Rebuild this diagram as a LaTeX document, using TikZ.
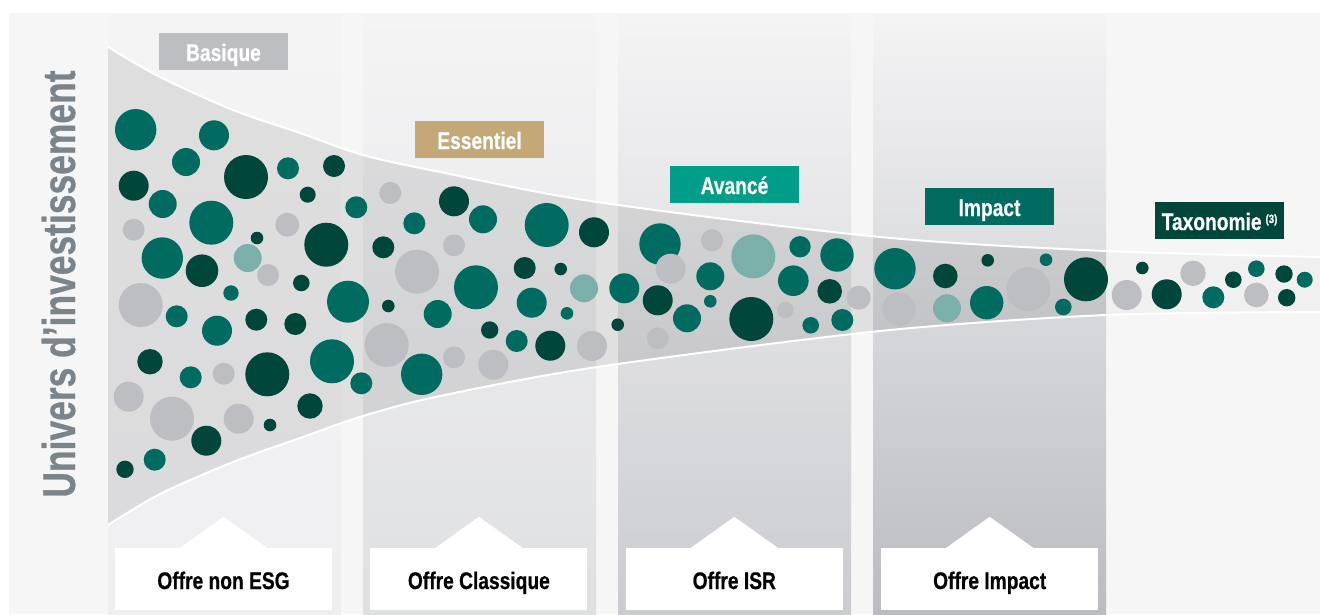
\documentclass[tikz,border=0pt]{standalone}
\usepackage{fontspec}
\newfontfamily\condfont[FakeStretch=0.8, FakeBold=0.6]{Liberation Sans}
\newfontfamily\axisfont[FakeStretch=0.77, FakeBold=0.6]{Liberation Sans}
\usetikzlibrary{positioning}

\definecolor{esgteal}{HTML}{006B61}
\definecolor{esgdark}{HTML}{00463B}
\definecolor{esggray}{HTML}{BCBEC2}
\definecolor{esglight}{HTML}{7AAFAA}
\definecolor{esgtan}{HTML}{C4A878}
\definecolor{esgmint}{HTML}{009E88}
\definecolor{panelbg}{HTML}{F6F6F6}
\definecolor{lanetop}{HTML}{F4F4F5}
\definecolor{laneA}{HTML}{EFEFF1}
\definecolor{laneB}{HTML}{DFE0E2}
\definecolor{laneC}{HTML}{CBCCD0}
\definecolor{laneD}{HTML}{BABCC1}
\definecolor{axistext}{HTML}{7B848B}

\begin{document}
\begin{tikzpicture}[
  x=1pt, y=-1pt,
  node distance=38pt,
  level/.style={rectangle, minimum width=129pt, minimum height=37pt, inner sep=0pt,
    text height=19pt, text depth=0pt,
    text=white, font=\condfont\bfseries\fontsize{24}{24}\selectfont},
  offre/.style={rectangle, fill=white, minimum width=217pt, minimum height=62pt, inner sep=0pt,
    text height=20pt, text depth=0pt,
    font=\condfont\bfseries\fontsize{24}{24}\selectfont},
  edge/.style={white, line width=2pt}
]
\useasboundingbox (0,0) rectangle (1320,614);
\fill[white] (0,0) rectangle (1320,614);
\fill[panelbg] (9,13) rectangle (1320,614);

% lanes
\foreach \x/\c in {108/laneA, 363/laneB, 618/laneC, 873/laneD}
  \shade[top color=lanetop, bottom color=\c] (\x,13) rectangle ++(233,601);

% funnel
\path[save path=\funnel] plot[smooth] coordinates {(108,47) (160,77) (233,110) (300,133) (363,155) (440,172) (597,202) (880,237) (1106,251) (1320,257)}
  -- plot[smooth] coordinates {(1320,312) (1106,315) (880,331) (597,367) (440,396) (363,416) (300,438) (233,462) (160,494) (108,525)} -- cycle;
\begin{scope}
  \clip[use path=\funnel];
  \fill[black, opacity=0.085] (108,0) rectangle (1106,614);
  \fill[black, opacity=0.025] (1106,0) rectangle (1320,614);
\end{scope}
\draw[edge] plot[smooth] coordinates {(108,47) (160,77) (233,110) (300,133) (363,155) (440,172) (597,202) (880,237) (1106,251) (1320,257)};
\draw[edge] plot[smooth] coordinates {(108,525) (160,494) (233,462) (300,438) (363,416) (440,396) (597,367) (880,331) (1106,315) (1320,312)};

% bubbles: x/y/radius/colour
\foreach \x/\y/\r/\c in {
  135.7/129.7/20.7/esgteal, 214/135.3/15/esgteal, 186/162/14/esgteal, 246/177/22/esgdark,
  288/168.3/11/esgteal, 334/166/11/esgdark, 133.7/185.7/15/esgdark, 162.7/204/14/esgteal,
  307.7/194.7/8/esgdark, 356.3/207.3/11/esgteal, 133.7/229.7/11/esggray, 211.3/222.7/22/esgteal,
  287.3/224.7/12/esggray, 257/238/6.3/esgdark, 326.3/244.7/22/esgdark, 162.3/258/20.7/esgteal,
  247.7/258/14/esglight, 202/270.7/16.3/esgdark, 268/275/11/esggray, 301.3/283/8.3/esgdark,
  231/293/7.7/esgteal, 140.7/305/22/esggray, 348/301.7/21/esgteal,
  176.7/316.3/11/esgteal, 217/330.7/15/esgteal, 256.3/319.7/11/esgdark, 295.3/324/11/esgdark,
  150/361.7/12.7/esgdark, 190.7/377.3/11/esgteal, 223.7/373.7/11/esggray, 267.3/374.3/22/esgdark,
  332/361.3/22/esgteal, 361.3/383.3/11/esgteal, 128.7/396.7/15/esggray, 172/418.7/22/esggray,
  238.7/418.7/15/esggray, 310/406/12.7/esgdark, 270/425/6.3/esgdark, 206.3/440.7/15/esgdark,
  154.7/459.7/11/esgteal, 125/469.3/8.7/esgdark,
  390.3/193/11/esggray, 454/201.3/15/esgdark, 414.3/223.3/11/esgteal, 483/219.3/14/esgteal,
  546.7/225/22/esgteal, 594/232.3/15/esgdark, 383.3/247.3/11/esgdark, 454/245.3/11/esggray,
  417/271.7/22/esggray, 524.7/268/11/esgdark, 560.7/269/6.3/esgdark, 476/287.3/22/esgteal,
  584/288.3/14/esglight, 388.3/306/6.3/esgdark, 437.7/314/14/esgteal, 531.7/302.7/15/esgteal,
  567/313.3/6.3/esgteal, 489.7/330/8.7/esgdark, 386.7/345/22/esggray, 516.7/341/11/esgteal,
  550.3/345.7/15/esgdark, 592/346/15/esggray, 454/357.3/11/esggray, 493.3/364.7/15/esggray,
  421.7/374.3/20.7/esgteal,
  660/244/20.7/esgteal, 712/240.3/11/esggray, 753.3/256.3/22/esglight, 800/246.7/10.7/esgteal,
  837/255/16.7/esgteal, 670.7/268.7/15/esggray, 624.3/288.3/15/esgteal, 657.7/300.3/15/esgdark,
  710.3/276.3/14/esgteal, 710.3/301.3/6.3/esgteal, 793.3/280.7/15.3/esgteal, 829.7/291.3/12.3/esgdark,
  858.7/297.7/12/esggray, 687/318.3/14/esgteal, 751.3/319/22/esgdark, 785.3/310/8.3/esggray,
  810.7/325.3/8.3/esgteal, 842.3/320/11/esgteal, 617.7/324.7/6.3/esgdark, 657.7/338.3/11/esggray,
  895/268.7/20.7/esgteal, 899/309/16.7/esggray, 945.3/276/12.3/esgdark, 947/308.3/14/esglight,
  987.7/260.3/6.3/esgdark, 986.7/302.7/16.7/esgteal, 1028.3/289/22/esggray, 1046/259.7/6.3/esgteal,
  1063.3/307/8.3/esgteal, 1086/279.3/22/esgdark,
  1126.7/295/15/esggray, 1142.3/268/6.3/esgdark, 1166.7/294.3/15/esgdark, 1193/273.3/12.7/esggray,
  1213.3/297.3/11/esgteal, 1233.3/279.7/8.3/esgdark, 1256.3/268.7/8.3/esgteal, 1256.3/295/12.3/esggray,
  1284/274/8.7/esgdark, 1286.7/297.7/8.7/esgdark, 1304.7/279.7/8/esgteal}
  \fill[\c] (\x,\y) circle[radius=\r*1pt];

% levels
\node[level, fill=esggray] (basique) at (223.5,51.5) {Basique};
\node[level, fill=esgtan] (essentiel) at (479.5,139.5) {Essentiel};
\node[level, fill=esgmint] (avance) at (734.5,184.5) {Avancé};
\node[level, fill=esgteal] (impact) at (989.5,206.5) {Impact};
\node[level, fill=esgdark] (taxo) at (1219.5,220.5) {Taxonomie\,\raisebox{7pt}{\fontsize{12}{12}\selectfont(3)}};

% offers
\node[offre] (offnon) at (223.5,579) {Offre non ESG};
\node[offre, right=of offnon] (offclass) {Offre Classique};
\node[offre, right=of offclass] (offisr) {Offre ISR};
\node[offre, right=of offisr] (offimpact) {Offre Impact};
\foreach \n in {offnon, offclass, offisr, offimpact}
  \fill[white] ([xshift=-43.5pt]\n.north) -- ([yshift=31pt]\n.north) -- ([xshift=43.5pt]\n.north) -- cycle;

\node[rotate=90, anchor=base, inner sep=0pt, text=axistext,
  font=\axisfont\bfseries\fontsize{46}{46}\selectfont] (univers) at (75,284) {Univers d’investissement};
\end{tikzpicture}
\end{document}
